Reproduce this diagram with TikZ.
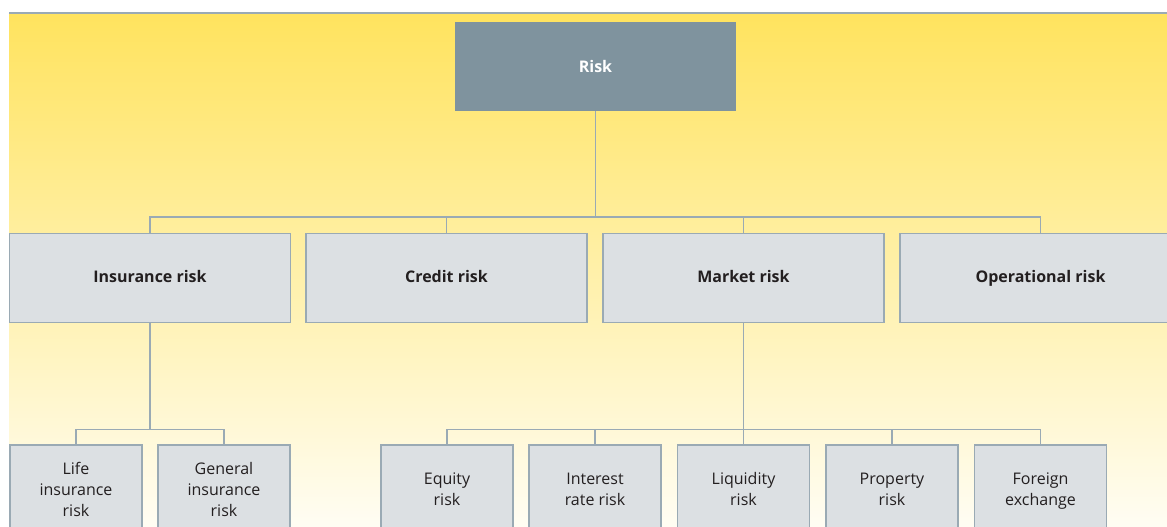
\documentclass[tikz,border=0pt]{standalone}
\usepackage{fontspec}
\setmainfont{Open Sans}
\definecolor{bgtop}{HTML}{FFE35E}
\definecolor{bgmid}{HTML}{FEEDA2}
\definecolor{bgbot}{HTML}{FFFDF3}
\definecolor{boxfill}{HTML}{DCE0E3}
\definecolor{boxline}{HTML}{9AAAB4}
\definecolor{riskfill}{HTML}{7F939E}
\definecolor{txt}{HTML}{231F20}
\tikzset{
  box/.style={draw=boxline, fill=boxfill, line width=1.1pt, minimum width=281*0.75pt, minimum height=89*0.75pt, inner sep=0pt, font=\fontsize{12}{15.75}\selectfont\bfseries, text=txt, align=center, execute at begin node=\strut},
  small/.style={draw=boxline, fill=boxfill, line width=1.1pt, minimum width=132*0.75pt, minimum height=95*0.75pt, inner sep=0pt, font=\fontsize{12}{15.75}\selectfont, text=txt, align=center, execute at begin node=\strut, execute at end node=\strut},
  riskbox/.style={fill=riskfill, minimum width=281*0.75pt, minimum height=89*0.75pt, inner sep=0pt, font=\fontsize{12}{15.75}\selectfont\bfseries, text=white, text height=8.6pt, text depth=0pt},
  conn/.style={draw=boxline, line width=1.1pt}
}
\begin{document}
\begin{tikzpicture}[x=0.75pt,y=-0.75pt]
\useasboundingbox (0,0) rectangle (1167,526);
\begin{scope}
\clip (0,0) rectangle (1167,526);
\shade[top color=bgtop, middle color=bgmid, bottom color=bgbot] (9,12) rectangle (1167,526);
\draw[boxline, line width=1.5pt] (9,12.5) -- (1167,12.5);
\node[riskbox] (risk) at (595.5,66.5) {Risk};
\node[box] (ins) at (150,278) {Insurance risk};
\node[box] (cred) at (446.5,278) {Credit risk};
\node[box] (mkt) at (743.5,278) {Market risk};
\node[box] (op) at (1040.5,278) {Operational risk};
\node[small] (life) at (76,492.5) {Life\\insurance\\risk};
\node[small] (gen) at (224,492.5) {General\\insurance\\risk};
\node[small] (eq) at (447,492.5) {Equity\\risk};
\node[small] (ir) at (595,492.5) {Interest\\rate risk};
\node[small] (liq) at (743.5,492.5) {Liquidity\\risk};
\node[small] (prop) at (892,492.5) {Property\\risk};
\node[small] (fx) at (1040.5,492.5) {Foreign\\exchange};
\draw[conn] (risk.south) -- ++(0,106);
\draw[conn] (ins.north) -- ++(0,-16) -| (op.north);
\draw[conn] (cred.north) -- ++(0,-16);
\draw[conn] (mkt.north) -- ++(0,-16);
\draw[conn] (ins.south) -- ++(0,107);
\draw[conn] (life.north) -- ++(0,-15) -| (gen.north);
\draw[conn] (mkt.south) -- ++(0,107);
\draw[conn] (eq.north) -- ++(0,-15) -| (fx.north);
\draw[conn] (ir.north) -- ++(0,-15);
\draw[conn] (liq.north) -- ++(0,-15);
\draw[conn] (prop.north) -- ++(0,-15);
\end{scope}
\end{tikzpicture}
\end{document}
